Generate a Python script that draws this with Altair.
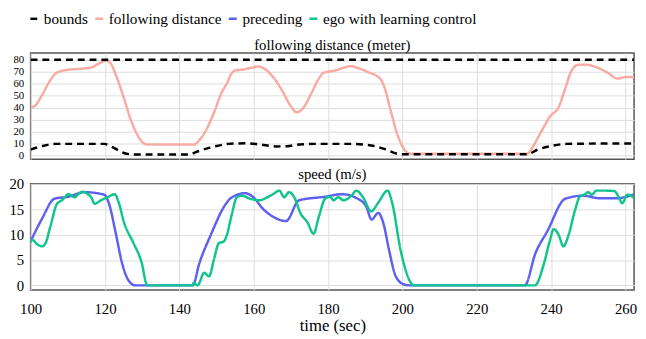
import altair as alt
import pandas as pd

# ---------------- data ----------------
fd_t = [100, 100.9, 103.1, 105.3, 107.0, 110.1, 113.2, 116.3, 118.5, 120.3, 121.6, 123.3, 125.1,
        126.9, 128.6, 130.4, 131.7, 144.0, 145.3, 147.1, 149.3, 151.5, 152.8, 154.0, 155.0, 157.2,
        159.0, 161.2, 162.9, 165.2, 167.8, 170.0, 171.5, 173.1, 175.3, 177.5, 178.8, 181.9, 184.1,
        186.1, 188.1, 190.7, 194.0, 195.1, 196.9, 198.6, 200.4, 202.1, 233.6, 235.0, 237.2, 239.8,
        242.0, 243.8, 245.5, 247.3, 249.5, 252.1, 255.2, 257.9, 260.1, 262.5]
fd_v = [40.5, 41, 50.6, 62.9, 69.1, 71.6, 72.4, 73.5, 77, 79.2, 76.5, 64.2, 47.9,
        30.2, 18, 10.4, 9.2, 9.2, 12.6, 20.7, 35.7, 53.4, 60.2, 68.3, 71, 71.8,
        73, 74.3, 72.4, 65.6, 53.4, 41.1, 36.2, 38.9, 50.6, 64.2, 69.1, 71, 73.2,
        74.6, 73, 69.7, 64.2, 57.5, 37, 18, 5.7, 1.6, 1.6, 7.1, 19.3, 33,
        40.3, 56.1, 71, 75.7, 75.7, 73.8, 69.1, 64.2, 65.6, 65.6]

up_t = [100, 262.5]
up_v = [80, 80]

lo_t = [100, 103.1, 106.6, 119.8, 122.0, 125.1, 127.7, 142.7, 144.5, 148.0, 151.5, 153.2, 158.1,
        161.6, 166.0, 169.1, 172.2, 177.5, 186.3, 191.6, 195.1, 198.6, 200.8, 233.6, 236.3, 239.8,
        244.2, 262.5]
lo_v = [5, 7.9, 9.8, 9.8, 7.1, 2.2, 1.0, 1.0, 3, 6.5, 9, 9.8, 10.3,
        9.3, 7.7, 7.9, 9.3, 9.8, 9.8, 8.5, 5.7, 1.6, 1.1, 1.2, 4.9, 7.9,
        9.8, 10.2]

pre_t = [100, 103.1, 106.4, 110.1, 114.5, 119.8, 121.1, 122.9, 124.6, 126.4, 128.2, 143.6, 145.4,
         148.6, 152.0, 153.8, 157.7, 159.9, 162.5, 165.6, 168.7, 172.2, 179.2, 183.7, 188.0, 190.3,
         191.7, 193.5, 194.9, 196.4, 198.2, 200.4, 202.0, 232.9, 235.8, 238.9, 243.8, 248.6, 253.0,
         257.5, 262.5]
pre_v = [8.7, 13.2, 17.1, 17.5, 18.4, 17.9, 16.1, 10.3, 4.4, 0.9, 0, 0, 4.4,
         10.2, 15.5, 17.2, 18.2, 17.4, 15.1, 13.4, 12.7, 16.8, 17.5, 18, 17.1, 15.5,
         13, 14.3, 12.2, 7.0, 1.8, 0.2, 0, 0, 6.4, 10.6, 17.1, 17.7, 17.2,
         17.2, 18]

ego_t = [100, 100.4, 101.8, 103.1, 104.0, 105.3, 107.1, 108.4, 109.2, 110.1, 111.9, 112.8, 114.1,
         115.4, 116.3, 117.2, 118.9, 120.7, 122.6, 123.8, 125.1, 127.7, 129.9, 131.2, 131.6, 143.6,
         143.8, 144.9, 146.7, 148.0, 149.3, 150.6, 152.0, 152.8, 154.1, 155.5, 156.8, 159.0, 161.6,
         163.4, 165.2, 166.9, 168.2, 169.5, 170.9, 172.6, 174.4, 176.1, 177.5, 179.2, 180.6, 181.4,
         182.8, 184.1, 186.3, 187.6, 189.4, 191.6, 193.3, 196.0, 197.3, 199.5, 202.6, 203.0, 235.6,
         238.1, 239.6, 240.7, 242.0, 243.3, 244.7, 246.4, 247.7, 249.1, 250.0, 250.9, 252.2, 254.8,
         257.0, 258.2, 259.1, 260.5, 261.9, 262.8]
ego_v = [8.5, 9.0, 8.1, 7.7, 8.3, 11.6, 16.1, 16.8, 17.4, 18, 17.4, 18, 18.5,
         18, 17.4, 16.1, 16.8, 17.4, 18, 16.1, 12.5, 8.3, 4.4, 0.2, 0, 0,
         0.5, 0, 2.5, 1.8, 5.1, 8.3, 8.7, 10, 14, 17.4, 17.7, 17.1, 16.8,
         17.3, 18, 18.7, 17.4, 18.4, 17.4, 14.2, 12.5, 10.2, 13.5, 17.1, 17.5, 16.8,
         17.4, 16.8, 17.7, 18.7, 17.4, 14.6, 16.1, 18.7, 16.1, 7.0, 0.2, 0, 0,
         4.4, 8.7, 11.1, 10, 7.7, 10, 14.8, 17.5, 18, 18.4, 17.9, 18.7, 18.7,
         18.6, 17.4, 16.2, 17.9, 17.5, 16.8]

names = ["bounds", "following distance", "preceding", "ego with learning control"]
colors = ["#000000", "#f8aba3", "#6060f0", "#10c48e"]
dashes = [[7, 5], [1, 0], [1, 0], [1, 0]]
x_ticks = [100, 120, 140, 160, 180, 200, 220, 240, 260]
top_ticks = [0, 10, 20, 30, 40, 50, 60, 70, 80]
bot_ticks = [0, 5, 10, 15, 20]


def frame(ts, vs, series, grp):
    return pd.DataFrame({"t": ts, "v": vs, "series": series, "grp": grp})


top_df = pd.concat([
    frame(fd_t, fd_v, "following distance", "fd"),
    frame(up_t, up_v, "bounds", "upper"),
    frame(lo_t, lo_v, "bounds", "lower"),
])
bot_df = pd.concat([
    frame(pre_t, pre_v, "preceding", "pre"),
    frame(ego_t, ego_v, "ego with learning control", "ego"),
])

FONT = "Liberation Serif"


def title(text, dy):
    return alt.TitleParams(text=text, font=FONT, fontSize=15, fontWeight="normal",
                           color="black", offset=2, anchor="middle", dy=dy)


legend = alt.Legend(
    title=None, orient="none", legendX=-4, legendY=-43, direction="horizontal",
    symbolType="stroke", symbolSize=64, symbolStrokeWidth=2.5,
    labelFont=FONT, labelFontSize=15.5, labelColor="black", labelOffset=2,
    labelLimit=300, columnPadding=1, padding=0,
)
color = alt.Color("series:N", scale=alt.Scale(domain=names, range=colors), legend=legend)
dash = alt.StrokeDash("series:N", scale=alt.Scale(domain=names, range=dashes), legend=legend)
xscale = alt.Scale(domain=[100, 262.3], nice=False, zero=False)

top = alt.Chart(top_df).mark_line(strokeWidth=2.5, interpolate="monotone", clip=True).encode(
    x=alt.X("t:Q", scale=xscale,
            axis=alt.Axis(values=x_ticks, labels=False, ticks=False, title=None, domain=False)),
    y=alt.Y("v:Q", scale=alt.Scale(domain=[-3, 85.5], nice=False, zero=False),
            axis=alt.Axis(values=top_ticks, title=None, labelFontSize=11, labelOverlap=False,
                          labelPadding=7, labelFlush=False)),
    color=color, strokeDash=dash, detail="grp:N",
    order=alt.Order("t:Q"),
).properties(width=614, height=108, title=title("following distance (meter)", 1.5))

bottom = alt.Chart(bot_df).mark_line(strokeWidth=2.5, interpolate="monotone", clip=True).encode(
    x=alt.X("t:Q", scale=xscale,
            axis=alt.Axis(values=x_ticks, title="time (sec)", labelFontSize=15, titleFontSize=17,
                          labelPadding=12, titlePadding=1, labelFlush=False, labelOverlap=False)),
    y=alt.Y("v:Q", scale=alt.Scale(domain=[-0.9, 20.05], nice=False, zero=False),
            axis=alt.Axis(values=bot_ticks, title=None, labelFontSize=15, labelOverlap=False,
                          labelPadding=7, labelFlush=False)),
    color=color, strokeDash=dash, detail="grp:N",
    order=alt.Order("t:Q"),
).properties(width=614, height=108, title=title("speed (m/s)", 6.5))

chart = alt.vconcat(top, bottom, spacing=4).resolve_scale(
    color="shared", strokeDash="shared", x="shared"
).configure(
    padding={"left": 0, "top": 0, "right": 0, "bottom": 0},
).configure_view(
    stroke="#555555", strokeWidth=1.5,
).configure_axis(
    labelFont=FONT, titleFont=FONT, labelColor="black", titleColor="black",
    titleFontWeight="normal", gridColor="#dcdcdc", gridWidth=1, tickSize=0, domain=False,
).configure_title(
    font=FONT, fontSize=15, fontWeight="normal", color="black",
)

chart.save("out.html", embed_options={"renderer": "svg", "actions": False})
